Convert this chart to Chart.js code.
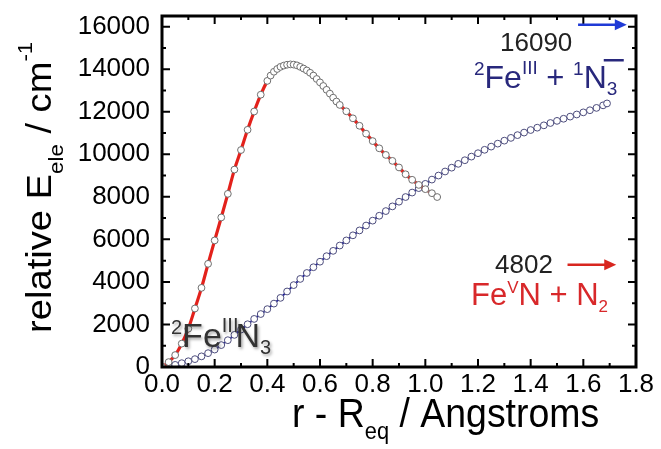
<!DOCTYPE html>
<html><head><meta charset="utf-8">
<script src="https://cdn.jsdelivr.net/npm/chart.js@4.4.0/dist/chart.umd.min.js"></script>
<style>html,body{margin:0;padding:0;background:#fff;} #wrap{width:661px;height:449px;position:relative;}</style>
</head><body><div id="wrap"><canvas id="c"></canvas></div>
<script>
// ---- tick labels ----
const xTickValues = [0, 0.2, 0.4, 0.6, 0.8, 1.0, 1.2, 1.4, 1.6, 1.8];
const xTickLabels = ['0.0','0.2','0.4','0.6','0.8','1.0','1.2','1.4','1.6','1.8'];
const yTickValues = [0, 2000, 4000, 6000, 8000, 10000, 12000, 14000, 16000];
const yTickLabels = ['0','2000','4000','6000','8000','10000','12000','14000','16000'];

// ---- red curve (Fe(V)N + N2 channel) ----
const redX = [0, 0.025, 0.05, 0.075, 0.1, 0.125, 0.15, 0.175, 0.2, 0.225, 0.25, 0.275, 0.3, 0.325, 0.35, 0.375, 0.4,
  0.4125, 0.425, 0.4375, 0.45, 0.4625, 0.475, 0.4875, 0.5, 0.5125, 0.525, 0.5375, 0.55, 0.5625, 0.575, 0.5875, 0.6,
  0.6125, 0.625, 0.6375, 0.65, 0.6625, 0.675, 0.7, 0.725, 0.75, 0.775, 0.8, 0.825, 0.85, 0.875, 0.9, 0.925, 0.95,
  0.975, 1.0, 1.025, 1.045];
const redY = [0, 230, 560, 1100, 1800, 2750, 3720, 4850, 5950, 7030, 8140, 9280, 10200, 11150, 12010, 12800, 13450,
  13700, 13880, 14010, 14110, 14170, 14210, 14225, 14215, 14180, 14110, 14030, 13940, 13830, 13700, 13540, 13380,
  13210, 13030, 12850, 12660, 12480, 12320, 12020, 11690, 11340, 10970, 10620, 10280, 9970, 9690, 9380, 9060, 8800,
  8560, 8360, 8170, 7990];

// ---- blue curve (Fe(III) + N3- channel) ----
const blueX = [0, 0.025, 0.05, 0.075, 0.1, 0.125, 0.15, 0.175, 0.2, 0.225, 0.25, 0.275, 0.3, 0.325, 0.35, 0.375, 0.4,
  0.425, 0.45, 0.475, 0.5, 0.525, 0.55, 0.575, 0.6, 0.625, 0.65, 0.675, 0.7, 0.725, 0.75, 0.775, 0.8, 0.825, 0.85,
  0.875, 0.9, 0.925, 0.95, 0.975, 1.0, 1.025, 1.05, 1.075, 1.1, 1.125, 1.15, 1.175, 1.2, 1.225, 1.25, 1.275, 1.3,
  1.325, 1.35, 1.375, 1.4, 1.425, 1.45, 1.475, 1.5, 1.525, 1.55, 1.575, 1.6, 1.625, 1.65, 1.675, 1.69];
const blueY = [0, 30, 100, 180, 270, 370, 500, 650, 820, 1030, 1260, 1510, 1760, 2010, 2260, 2490, 2720,
  2980, 3250, 3550, 3850, 4140, 4420, 4690, 4950, 5210, 5460, 5710, 5950, 6190, 6420, 6650, 6880, 7110, 7330,
  7550, 7770, 7990, 8200, 8410, 8610, 8810, 9000, 9190, 9370, 9550, 9720, 9890, 10050, 10210, 10360, 10500, 10640,
  10770, 10900, 11020, 11140, 11250, 11360, 11470, 11570, 11670, 11770, 11870, 11970, 12070, 12180, 12300, 12390];

// ---- asymptote values marked by arrows ----
const asymBlue = 16090;
const asymRed = 4802;

const FONT = '"Liberation Sans", Arial, sans-serif';

function rich(ctx, parts, x, y, color) {
  let cx = x;
  ctx.fillStyle = color;
  ctx.textBaseline = 'alphabetic';
  ctx.textAlign = 'left';
  for (const p of parts) {
    ctx.font = p[1] + 'px ' + FONT;
    ctx.fillText(p[0], cx, y + (p[2] || 0));
    cx += ctx.measureText(p[0]).width + (p[3] || 0);
  }
  return cx;
}

function arrow(ctx, x1, x2, y, color) {
  ctx.save();
  ctx.strokeStyle = color; ctx.fillStyle = color; ctx.lineWidth = 2.5;
  ctx.beginPath(); ctx.moveTo(x1, y); ctx.lineTo(x2 - 9, y); ctx.stroke();
  ctx.beginPath(); ctx.moveTo(x2, y); ctx.lineTo(x2 - 12, y - 5.5); ctx.lineTo(x2 - 12, y + 5.5); ctx.closePath(); ctx.fill();
  ctx.restore();
}

const deco = {
  id: 'deco',
  afterDatasetsDraw(chart) {
    const { ctx, chartArea: a, scales: { x, y } } = chart;
    ctx.save();
    // inward ticks on all four sides
    ctx.strokeStyle = '#000'; ctx.lineWidth = 2;
    ctx.beginPath();
    for (let i = 0; i <= 18; i++) {
      const px = x.getPixelForValue(x.min + i * 0.1);
      const L = i % 2 === 0 ? 8 : 4;
      ctx.moveTo(px, a.bottom); ctx.lineTo(px, a.bottom - L);
      ctx.moveTo(px, a.top); ctx.lineTo(px, a.top + L);
    }
    for (let i = 0; i <= 16; i++) {
      const py = y.getPixelForValue(i * 1000);
      const L = i % 2 === 0 ? 8 : 4;
      ctx.moveTo(a.left, py); ctx.lineTo(a.left + L, py);
      ctx.moveTo(a.right, py); ctx.lineTo(a.right - L, py);
    }
    ctx.stroke();
    ctx.lineWidth = 3;
    ctx.strokeRect(a.left, a.top, a.right - a.left, a.bottom - a.top);
    ctx.restore();

    // arrows at asymptote levels
    arrow(ctx, x.getPixelForValue(1.58), x.getPixelForValue(1.765), y.getPixelForValue(asymBlue), '#1f3ad6');
    arrow(ctx, x.getPixelForValue(1.54), x.getPixelForValue(1.725), y.getPixelForValue(asymRed), '#d8261f');

    ctx.save();
    // 16090 label + 2Fe(III) + 1N3-
    rich(ctx, [['16090', 26]], 500, 51, '#222');
    const navy = '#28287c';
    let cx = rich(ctx, [['2', 19, -13], ['Fe', 32], ['III', 19, -14], [' + ', 31], ['1', 19, -13], ['N', 32]], 474, 88, navy);
    rich(ctx, [['3', 19, 7]], cx, 88, navy);
    ctx.fillStyle = navy; ctx.fillRect(cx - 3, 59, 20, 2.5);

    // 4802 label + Fe(V)N + N2
    rich(ctx, [['4802', 26]], 495, 273, '#222');
    rich(ctx, [['Fe', 31], ['V', 17, -12], ['N + N', 31], ['2', 17, 7]], 471, 305, '#d8282a');

    // 2Fe(III)N3 with soft shadow
    ctx.shadowColor = 'rgba(0,0,0,0.35)'; ctx.shadowBlur = 3; ctx.shadowOffsetX = 1.5; ctx.shadowOffsetY = 1.5;
    rich(ctx, [['2', 20, -13], ['Fe', 34], ['III', 20, -15, -3], ['N', 34], ['3', 20, 7]], 171, 347, '#333');
    ctx.restore();

    // axis titles
    ctx.save();
    ctx.translate(292, 427);
    ctx.scale(1.04, 1.12);
    rich(ctx, [['r - R', 36], ['eq', 21, 11], [' / Angstroms', 36]], 0, 0, '#000');
    ctx.restore();

    ctx.save();
    ctx.translate(51, 333);
    ctx.rotate(-Math.PI / 2);
    ctx.scale(1.06, 0.95);
    rich(ctx, [['relative E', 36], ['ele', 21, 13], [' / cm', 36], ['-1', 21, -20]], 0, 0, '#000');
    ctx.restore();
  }
};

const tickFont = { family: FONT, size: 26 };

new Chart(document.getElementById('c'), {
  type: 'scatter',
  data: {
    datasets: [
      {
        label: 'FeN + N2', data: redX.map((v, i) => ({ x: v, y: redY[i] })), showLine: true,
        borderColor: '#e3211b', borderWidth: 3.2, cubicInterpolationMode: 'monotone',
        pointRadius: 3.4, pointBackgroundColor: '#fff', pointBorderColor: '#6e6e6e', pointBorderWidth: 1
      },
      {
        label: 'Fe + N3', data: blueX.map((v, i) => ({ x: v, y: blueY[i] })), showLine: true,
        borderColor: '#1a1aa0', borderWidth: 2, cubicInterpolationMode: 'monotone',
        pointRadius: 3.4, pointBackgroundColor: '#fff', pointBorderColor: '#4c4c7c', pointBorderWidth: 1
      }
    ]
  },
  options: {
    responsive: true, maintainAspectRatio: false, animation: false,
    layout: { padding: { left: 0, right: 25, top: 16, bottom: 0 } },
    plugins: { legend: { display: false }, tooltip: { enabled: false } },
    scales: {
      x: {
        type: 'linear', min: 0, max: 1.8,
        afterBuildTicks: s => { s.ticks = xTickValues.map(v => ({ value: v })); },
        afterFit: s => { s.height = 82; },
        grid: { display: false, drawTicks: true, tickLength: 2 }, border: { display: false },
        ticks: { callback: (v, i) => xTickLabels[i], font: tickFont, color: '#000', padding: 0, maxRotation: 0, autoSkip: false }
      },
      y: {
        type: 'linear', min: 0, max: 16500,
        afterBuildTicks: s => { s.ticks = yTickValues.map(v => ({ value: v })); },
        afterFit: s => { s.width = 162; },
        grid: { display: false, drawTicks: true, tickLength: 12 }, border: { display: false },
        ticks: { callback: (v, i) => yTickLabels[i], font: tickFont, color: '#000', padding: 0, autoSkip: false }
      }
    }
  },
  plugins: [deco]
});
</script>
</body></html>
